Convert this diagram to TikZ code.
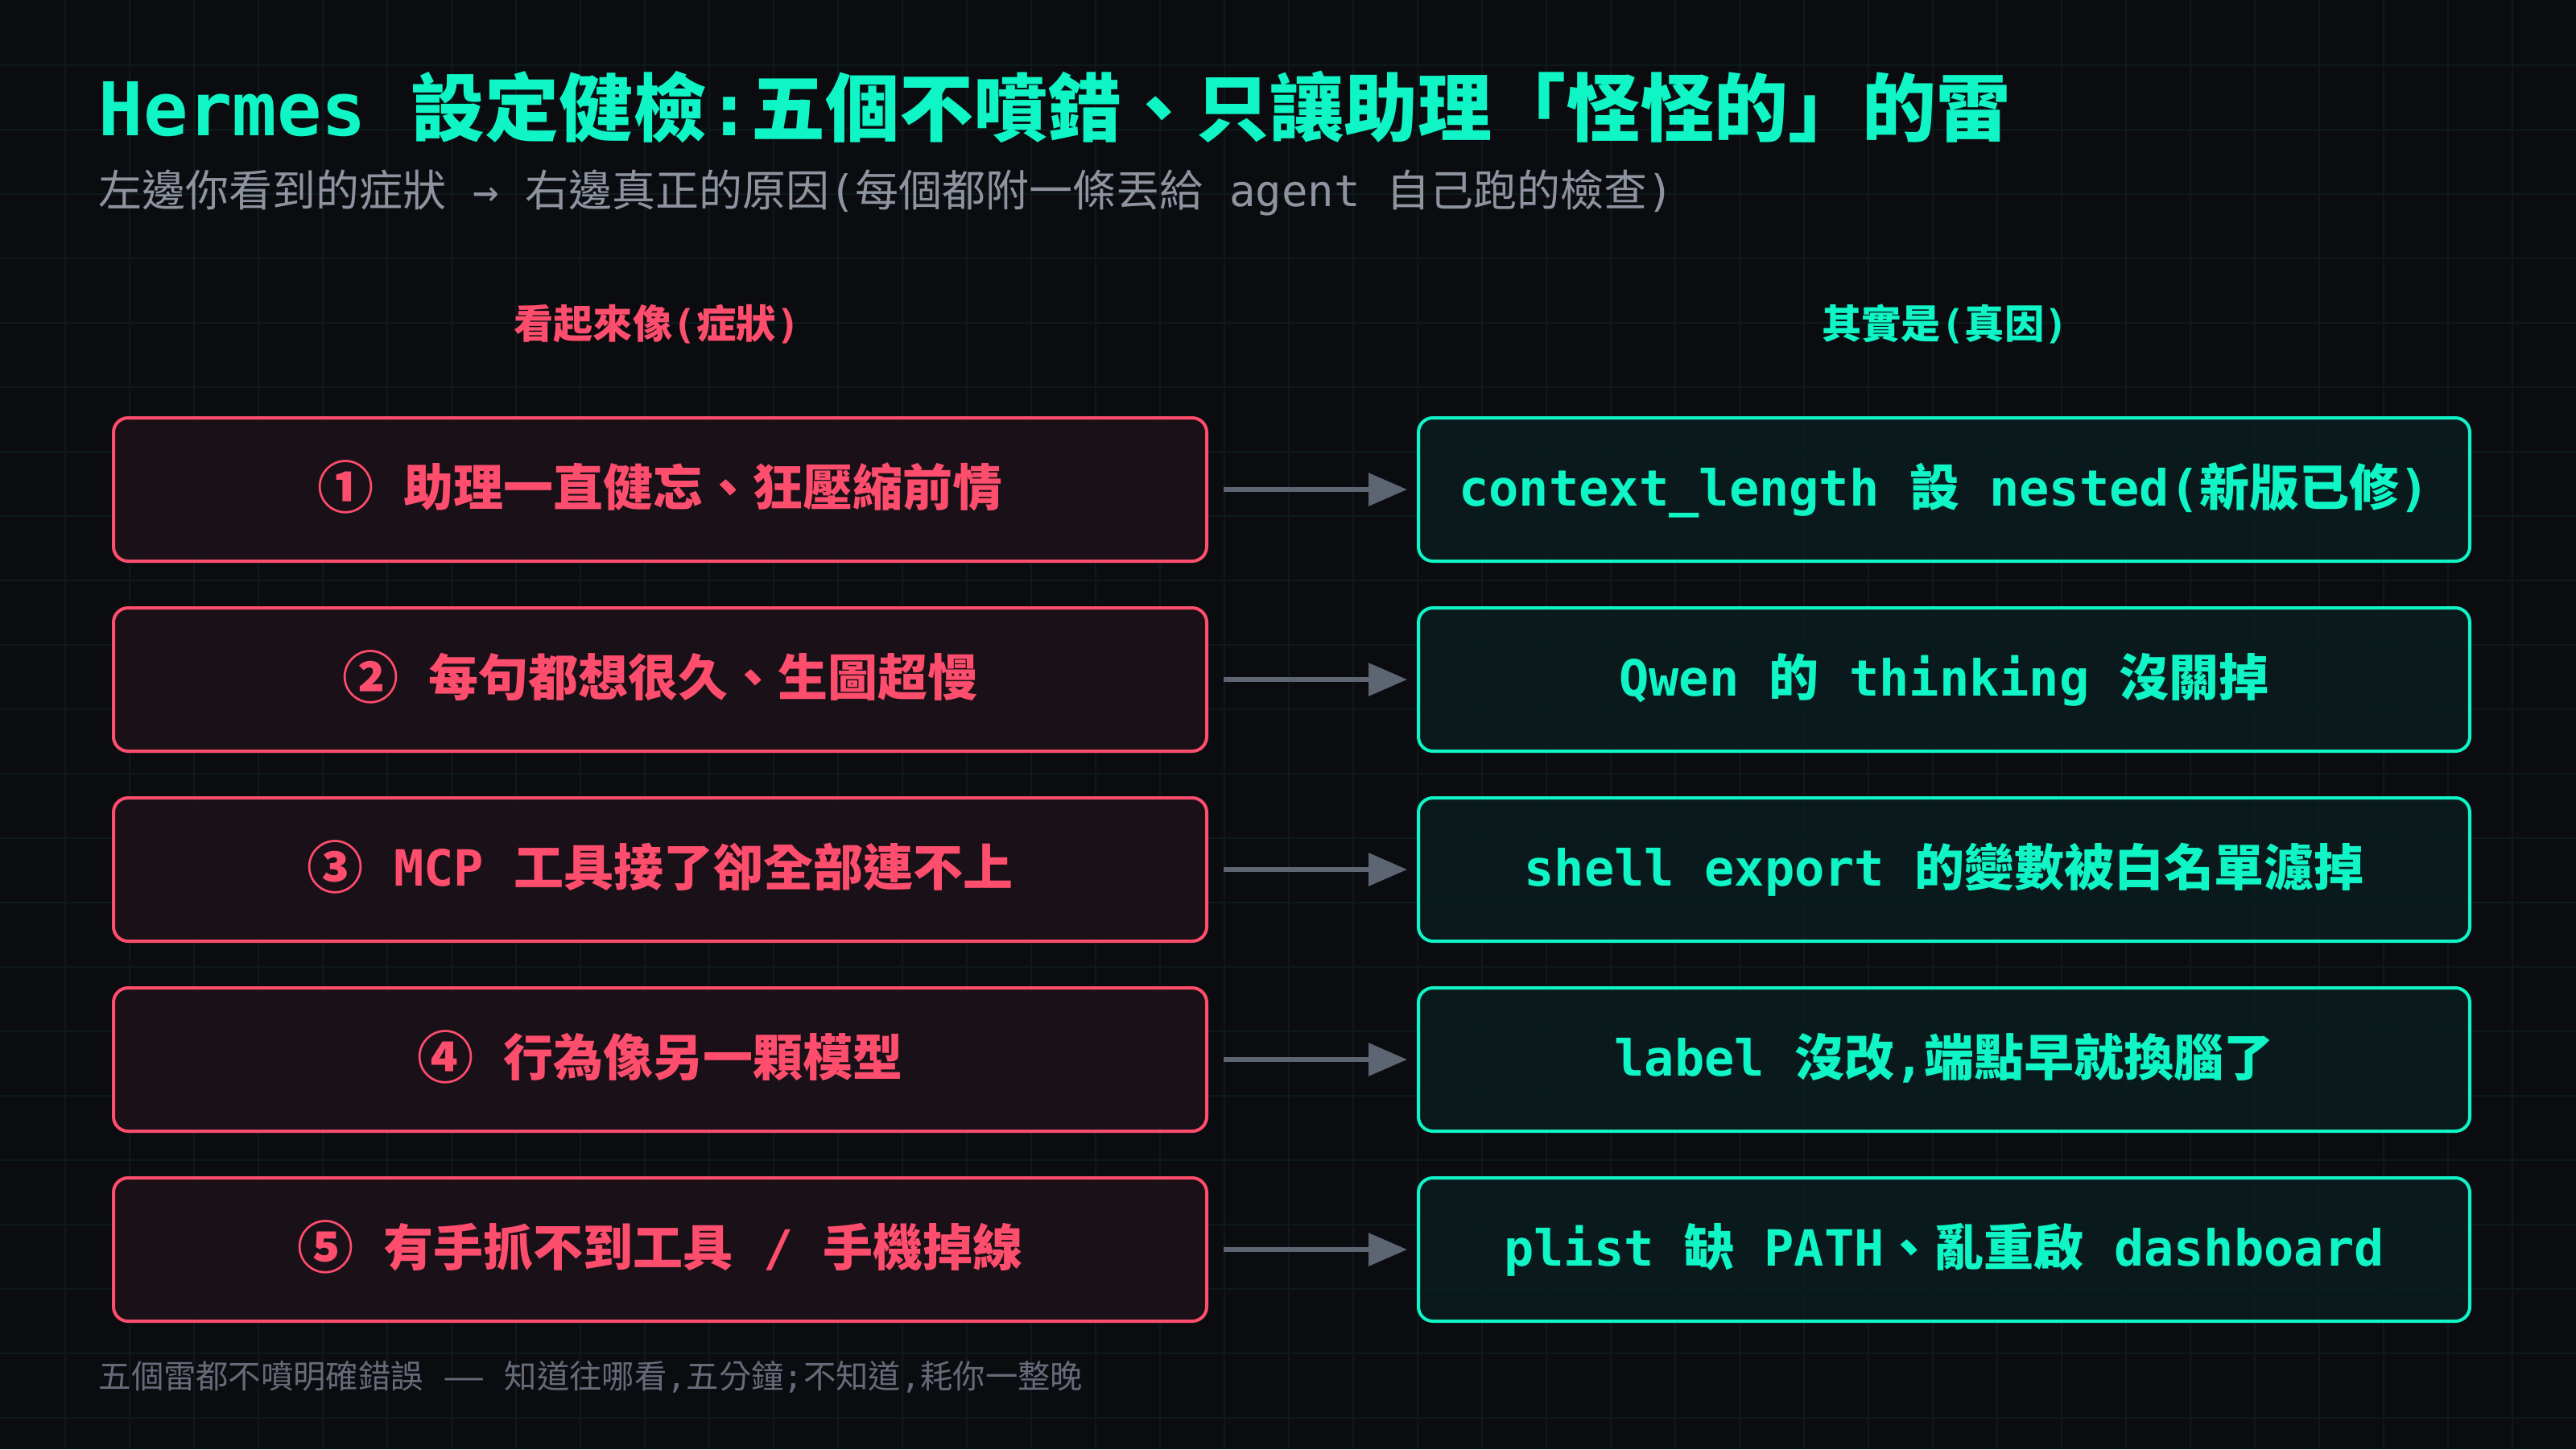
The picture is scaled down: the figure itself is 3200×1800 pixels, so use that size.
\documentclass[tikz,border=0pt]{standalone}
\usepackage{fontspec}
\setmainfont{DejaVu Sans Mono}
\newfontfamily\cjk{Noto Sans CJK TC}
\newfontfamily\dvs{DejaVu Sans}
\newcommand\zh[1]{{\cjk #1}}
\newcommand\cn[1]{\raisebox{-0.9pt}{\scalebox{1.13}{\cjk #1}}}
\usetikzlibrary{arrows.meta}
\definecolor{bgc}{HTML}{0B0C10}
\definecolor{gridc}{HTML}{0D1A1B}
\definecolor{tealc}{HTML}{0FF5C6}
\definecolor{pinkc}{HTML}{FF4D6D}
\definecolor{symfill}{HTML}{1E1119}
\definecolor{causefill}{HTML}{0A1E1F}
\definecolor{subc}{HTML}{8E93A0}
\definecolor{footc}{HTML}{666B79}
\definecolor{arrc}{HTML}{5D6573}
\tikzset{
  gridline/.style={draw=gridc, line width=0.6pt},
  titletext/.style={inner sep=0pt, anchor=base west, text=tealc, font=\fontsize{27.6}{32}\selectfont\bfseries},
  subtext/.style={inner sep=0pt, anchor=base west, text=subc, font=\fontsize{16.2}{20}\selectfont},
  hdr/.style={inner sep=0pt, anchor=base, font=\fontsize{14.8}{18}\selectfont\bfseries},
  foottext/.style={inner sep=0pt, anchor=base west, text=footc, font=\fontsize{12.1}{15}\selectfont},
  boxbase/.style={line width=1.2pt, rounded corners=5.4pt, minimum height=53.4pt, inner sep=0pt,
    fill opacity=0.8, text opacity=1, text height=14.5pt, text depth=2pt,
    font=\fontsize{18.6}{22}\selectfont\bfseries},
  sym/.style={boxbase, draw=pinkc, fill=symfill, text=pinkc, minimum width=407.4pt},
  cause/.style={boxbase, draw=tealc, fill=causefill, text=tealc, minimum width=391.8pt},
  arr/.style={draw=arrc, line width=1.8pt, -{Triangle[length=14.4pt,width=12pt]},
    shorten <=5.7pt, shorten >=3.6pt}
}
\begin{document}
\begin{tikzpicture}[x=0.3pt,y=-0.3pt]
\useasboundingbox (0,0) rectangle (3200,1800);
\fill[bgc] (0,0) rectangle (3200,1800);
\foreach \i in {1,...,39} \draw[gridline] (\i*80+1,0) -- (\i*80+1,1800);
\foreach \j in {1,...,22} \draw[gridline] (0,\j*80+1) -- (3200,\j*80+1);

\node[titletext] (title) at (122,168) {Hermes \zh{設定健檢}:\zh{五個不噴錯、只讓助理「怪怪的」的雷}};
\node[subtext] (sub) at (122,256) {\zh{左邊你看到的症狀} → \zh{右邊真正的原因}(\zh{每個都附一條丟給} agent \zh{自己跑的檢查})};

\node[hdr, text=pinkc] (h1) at (816,420) {\zh{看起來像}(\zh{症狀})};
\node[hdr, text=tealc] (h2) at (2416,420) {\zh{其實是}(\zh{真因})};

\node[sym] (s1) at (820,608)  {\cn{①} \zh{助理一直健忘、狂壓縮前情}};
\node[sym] (s2) at (820,844)  {\cn{②} \zh{每句都想很久、生圖超慢}};
\node[sym] (s3) at (820,1080) {\cn{③} MCP \zh{工具接了卻全部連不上}};
\node[sym] (s4) at (820,1316) {\cn{④} \zh{行為像另一顆模型}};
\node[sym] (s5) at (820,1552) {\cn{⑤} \zh{有手抓不到工具} / \zh{手機掉線}};

\node[cause] (c1) at (2415,608)  {context\_length \zh{設} nested(\zh{新版已修})};
\node[cause] (c2) at (2415,844)  {Qwen \zh{的} thinking \zh{沒關掉}};
\node[cause] (c3) at (2415,1080) {shell export \zh{的變數被白名單濾掉}};
\node[cause] (c4) at (2415,1316) {label \zh{沒改},\zh{端點早就換腦了}};
\node[cause] (c5) at (2415,1552) {plist \zh{缺} PATH\zh{、亂重啟} dashboard};

\foreach \k in {1,...,5} \draw[arr] (s\k) -- (c\k);

\node[foottext] (foot) at (122,1724) {\zh{五個雷都不噴明確錯誤} \scalebox{1.3}[1]{\dvs —} \zh{知道往哪看},\zh{五分鐘};\zh{不知道},\zh{耗你一整晚}};
\end{tikzpicture}
\end{document}
